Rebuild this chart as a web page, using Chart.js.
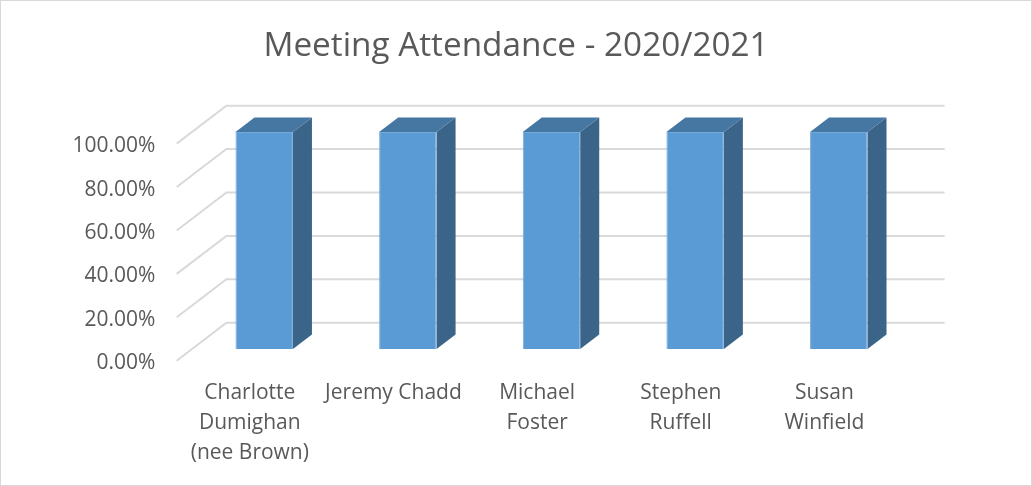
<!DOCTYPE html>
<html>
<head>
<meta charset="utf-8">
<title>Meeting Attendance</title>
<script src="https://cdn.jsdelivr.net/npm/chart.js@4"></script>
<style>
  html, body { margin: 0; padding: 0; background: #fff; }
  canvas { display: block; }
</style>
</head>
<body>
<canvas id="chart" width="1032" height="486"></canvas>
<script>
const names = [
  ["Charlotte", "Dumighan", "(nee Brown)"],
  ["Jeremy Chadd"],
  ["Michael", "Foster"],
  ["Stephen", "Ruffell"],
  ["Susan", "Winfield"],
];
const attendance = [100, 100, 100, 100, 100];

const fontFamily = "'Open Sans', sans-serif";
const textColor = "#595959";
const gridColor = "#D9D9D9";

// fake 3D depth: the wall sits behind the bar fronts
const barDepth = { x: 19, y: 14.5 };
const wallBack = { x: 34, y: 26.3 };
const wallFront = { x: -15.7, y: 11.7 };

const fake3d = {
  id: "fake3d",
  beforeDraw(chart) {
    const ctx = chart.ctx;
    ctx.save();
    ctx.strokeStyle = gridColor;
    ctx.lineWidth = 2;
    ctx.strokeRect(0, 0, chart.width, chart.height);
    ctx.restore();
  },
  beforeDatasetsDraw(chart) {
    const ctx = chart.ctx;
    const { x, y } = chart.scales;
    ctx.save();
    ctx.strokeStyle = gridColor;
    ctx.lineWidth = 2;
    y.ticks.forEach((tick, i) => {
      const py = y.getPixelForTick(i);
      ctx.beginPath();
      ctx.moveTo(x.left + wallFront.x, py + wallFront.y);
      ctx.lineTo(x.left + wallBack.x, py - wallBack.y);
      ctx.lineTo(x.right + wallBack.x, py - wallBack.y);
      ctx.stroke();
    });
    // side and top of every bar
    chart.getDatasetMeta(0).data.forEach((bar) => {
      const left = bar.x - bar.width / 2;
      const right = bar.x + bar.width / 2;
      ctx.fillStyle = "#3A6589";
      ctx.beginPath();
      ctx.moveTo(right, bar.y);
      ctx.lineTo(right + barDepth.x, bar.y - barDepth.y);
      ctx.lineTo(right + barDepth.x, bar.base - barDepth.y);
      ctx.lineTo(right, bar.base);
      ctx.closePath();
      ctx.fill();
      ctx.fillStyle = "#4676A2";
      ctx.beginPath();
      ctx.moveTo(left, bar.y);
      ctx.lineTo(left + barDepth.x, bar.y - barDepth.y);
      ctx.lineTo(right + barDepth.x, bar.y - barDepth.y);
      ctx.lineTo(right, bar.y);
      ctx.closePath();
      ctx.fill();
    });
    ctx.restore();
  },
};

new Chart(document.getElementById("chart"), {
  type: "bar",
  data: {
    labels: names,
    datasets: [
      {
        label: "Attendance",
        data: attendance,
        backgroundColor: "#5B9BD5",
        borderColor: "#74A9DA",
        borderWidth: 1,
        barPercentage: 0.4,
        categoryPercentage: 1,
      },
    ],
  },
  options: {
    responsive: false,
    animation: false,
    plugins: {
      legend: { display: false },
      tooltip: { enabled: false },
      title: {
        display: true,
        text: "Meeting Attendance - 2020/2021",
        color: textColor,
        font: { family: fontFamily, size: 33.3, weight: "normal" },
        padding: { top: 27, bottom: 65 },
      },
    },
    scales: {
      x: {
        grid: { display: false },
        border: { display: false },
        afterFit: (scale) => { scale.height = 137; },
        ticks: {
          color: textColor,
          font: { family: fontFamily, size: 21, lineHeight: 1.42 },
          autoSkip: false,
          maxRotation: 0,
          minRotation: 0,
          labelOffset: -14.4,
          padding: 21,
        },
      },
      y: {
        min: 0,
        max: 100,
        grid: { display: false },
        border: { display: false },
        afterFit: (scale) => { scale.width = 192.4; },
        ticks: {
          stepSize: 20,
          color: textColor,
          font: { family: fontFamily, size: 21 },
          labelOffset: 14.2,
          padding: 29,
          callback: (v) => v.toFixed(2) + "%",
        },
      },
      // empty axis, only keeps the room on the right so the title stays centred
      spacer: {
        position: "right",
        grid: { display: false },
        border: { display: false },
        ticks: { display: false },
        afterFit: (scale) => { scale.width = 121.4; },
      },
    },
  },
  plugins: [fake3d],
});
</script>
</body>
</html>
